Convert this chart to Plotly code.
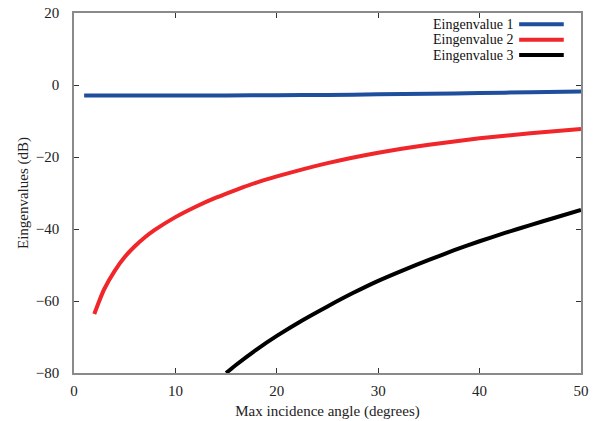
import plotly.graph_objects as go

# Data
x_blue = [1, 5, 10, 15, 20, 25, 30, 35, 40, 45, 50]
y_blue = [-2.9, -2.9, -2.9, -2.9, -2.85, -2.75, -2.6, -2.45, -2.25, -2.0, -1.8]

x_red = [2, 2.5, 3, 4, 5, 6, 7, 8, 10, 12, 14, 16, 18, 20, 25, 30, 35, 40, 45, 50]
y_red = [-63.6, -59.9, -56.6, -51.7, -47.8, -44.8, -42.3, -40.2, -36.7, -33.8,
         -31.3, -29.1, -27.1, -25.4, -21.7, -18.8, -16.6, -14.8, -13.4, -12.2]

x_black = [15, 16, 18, 20, 22.5, 25, 27.5, 30, 32.5, 35, 37.5, 40, 42.5, 45, 47.5, 50]
y_black = [-80.0, -77.7, -73.5, -69.7, -65.4, -61.5, -57.8, -54.4, -51.4, -48.6,
           -45.9, -43.4, -41.1, -38.9, -36.8, -34.7]

series_names = ["Eingenvalue 1", "Eingenvalue 2", "Eingenvalue 3"]
series_colors = ["#1f4e9c", "#f0262a", "#000000"]

x_ticks = [0, 10, 20, 30, 40, 50]
y_ticks = [-80, -60, -40, -20, 0, 20]

font_family = "Liberation Serif, Times New Roman, serif"

fig = go.Figure()
for xs, ys, name, col in zip([x_blue, x_red, x_black], [y_blue, y_red, y_black],
                             series_names, series_colors):
    fig.add_trace(go.Scatter(x=xs, y=ys, mode="lines", name=name,
                             line=dict(color=col, width=4, shape="spline", smoothing=0.6),
                             showlegend=False))

# Custom legend: right-aligned text with line sample to the right
legend_y = [0.969, 0.926, 0.883]
for name, col, ly in zip(series_names, series_colors, legend_y):
    fig.add_annotation(xref="paper", yref="paper", x=0.868, y=ly,
                       text=name, showarrow=False, xanchor="right", yanchor="middle",
                       height=15, borderpad=0,
                       font=dict(family=font_family, size=14, color="#111"))
    fig.add_shape(type="line", xref="paper", yref="paper",
                  x0=0.878, x1=0.966, y0=ly, y1=ly,
                  line=dict(color=col, width=4))

axis_common = dict(showline=True, linecolor="#8a8a8a", linewidth=1.5, mirror="ticks",
                   ticks="inside", ticklen=5, tickcolor="#333", tickwidth=1,
                   showgrid=False, zeroline=False, automargin=False,
                   tickfont=dict(family=font_family, size=15, color="#222"))

fig.update_layout(
    width=603, height=421,
    margin=dict(l=74, r=22, t=13, b=48),
    plot_bgcolor="white", paper_bgcolor="white",
    xaxis=dict(range=[0, 50], tickvals=x_ticks, ticklabelstandoff=3, title=dict(
        text="Max incidence angle (degrees)", standoff=8,
        font=dict(family=font_family, size=15, color="#222")), **axis_common),
    yaxis=dict(range=[-80, 20], tickvals=y_ticks, ticklabelstandoff=10, title=dict(
        text="Eingenvalues (dB)", standoff=4,
        font=dict(family=font_family, size=15, color="#222")), **axis_common),
)

fig.write_html("out.html")
